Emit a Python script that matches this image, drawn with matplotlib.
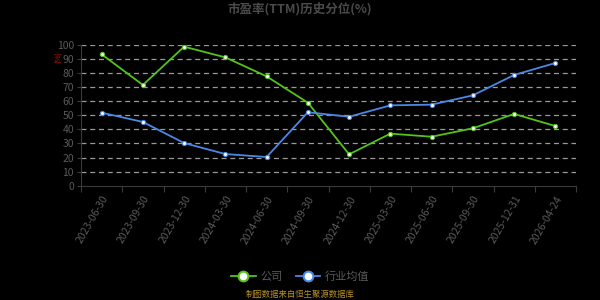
import matplotlib
matplotlib.use("Agg")
import matplotlib.pyplot as plt
from matplotlib.lines import Line2D

plt.rcParams['font.family'] = ['Noto Sans CJK SC', 'DejaVu Sans']

dates = ['2023-06-30', '2023-09-30', '2023-12-30', '2024-03-30', '2024-06-30',
         '2024-09-30', '2024-12-30', '2025-03-30', '2025-06-30', '2025-09-30',
         '2025-12-31', '2026-04-24']
company = [93.4, 71.6, 98.8, 91.2, 77.7, 59.0, 22.3, 37.0, 34.8, 40.8, 51.0, 42.4]
industry = [51.9, 45.3, 30.3, 22.5, 20.4, 52.2, 49.0, 57.1, 57.6, 64.2, 78.7, 87.2]
yticks = list(range(0, 101, 10))

green = '#52c41a'
blue = '#4a88e8'
txt = '#5a5a5a'
axcol = '#3a3a3a'

fig = plt.figure(figsize=(6, 3), dpi=100, facecolor='black')
ax = fig.add_axes([0.135, 0.381, 0.825, 0.469])
ax.set_facecolor('black')

x = list(range(len(dates)))
ax.plot(x, company, color=green, lw=1.3, marker='o', ms=3,
        mfc='white', mec=green, mew=0.8, zorder=3)
ax.plot(x, industry, color=blue, lw=1.3, marker='o', ms=3,
        mfc='white', mec=blue, mew=0.8, zorder=3)

ax.set_xlim(-0.5, len(dates) - 0.5)
ax.set_ylim(0, 100)
ax.set_yticks(yticks)
ax.tick_params(axis='y', colors=axcol, labelcolor=txt, labelsize=7.5, length=3, pad=2)
for v in yticks[1:]:
    ax.axhline(v, color='#9a9a9a', lw=0.9, ls=(0, (4, 3)), zorder=1)

ax.set_xticks([i - 0.5 for i in range(len(dates) + 1)], minor=False)
ax.set_xticklabels([])
ax.set_xticks(x, minor=True)
ax.set_xticklabels(dates, minor=True, rotation=60, ha='right',
                   rotation_mode='anchor', color=txt, fontsize=7.5)
ax.tick_params(axis='x', which='major', colors=axcol, length=4)
ax.tick_params(axis='x', which='minor', length=0, pad=6)

for s in ['top', 'right']:
    ax.spines[s].set_visible(False)
ax.spines['left'].set_color(axcol)
ax.spines['bottom'].set_color(axcol)

fig.text(0.5, 0.972, '市盈率(TTM)历史分位(%)', ha='center', va='center',
         color='#4a4a4a', fontsize=9, fontweight='bold')
fig.text(0.098, 0.81, '(%)', rotation=90, ha='center', va='center',
         color='#cc1111', fontsize=5.5)

handles = [Line2D([], [], color=green, lw=1.3, marker='o', ms=7, mfc='white', mec=green, mew=1.5),
           Line2D([], [], color=blue, lw=1.3, marker='o', ms=7, mfc='white', mec=blue, mew=1.5)]
fig.legend(handles, ['公司', '行业均值'], loc='center', bbox_to_anchor=(0.5, 0.077),
           ncol=2, frameon=False, labelcolor=txt, fontsize=8,
           handlelength=2.2, handletextpad=0.4, columnspacing=1.2)

fig.text(0.5, 0.02, '制图数据来自恒生聚源数据库', ha='center', va='center',
         color='#b8902a', fontsize=6)

fig.savefig('out.png', dpi=100, facecolor='black')
